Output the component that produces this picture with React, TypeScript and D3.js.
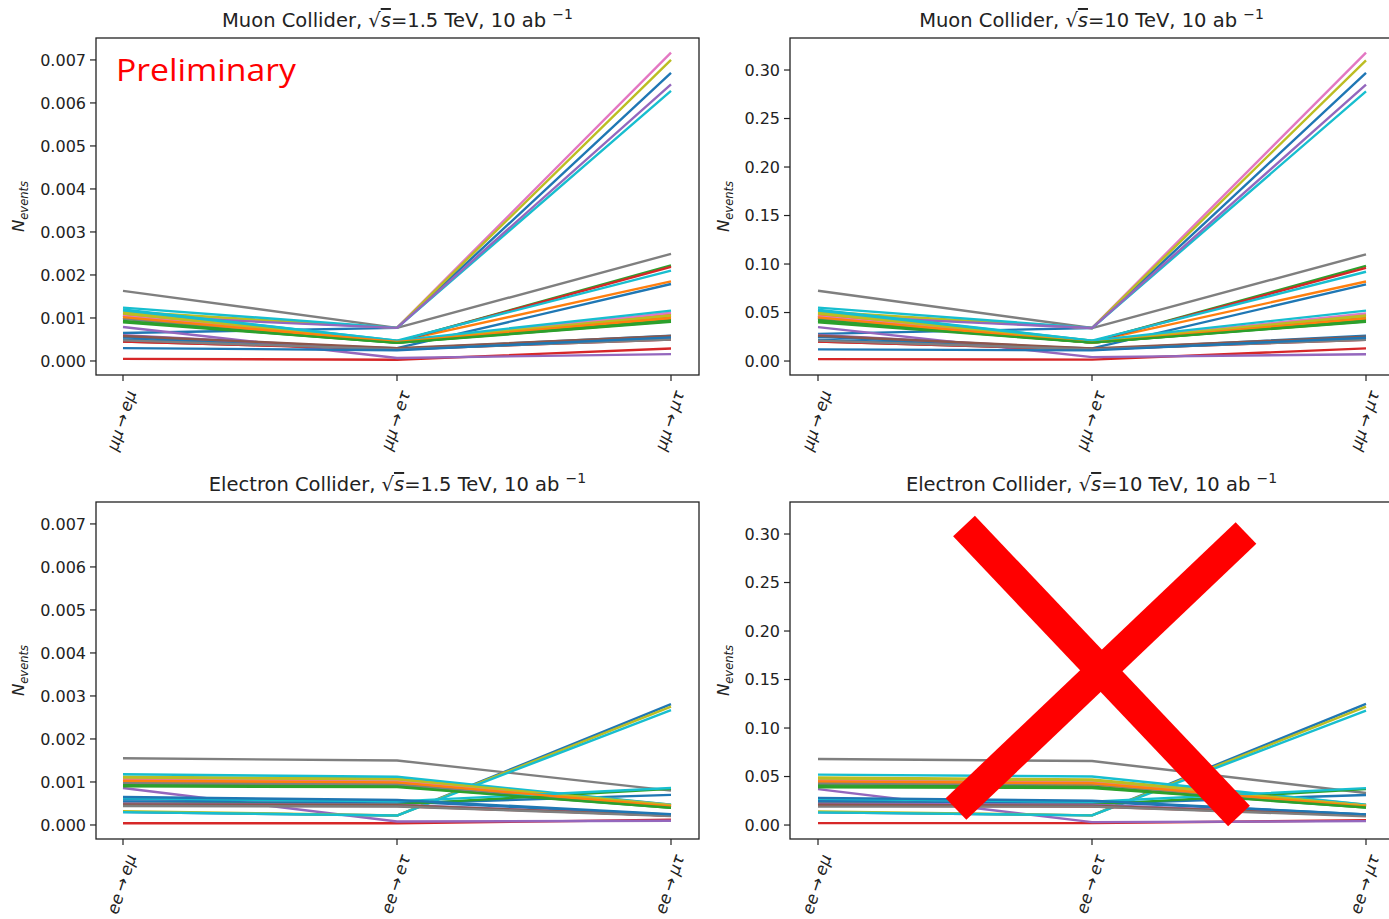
import React from 'react';
import * as d3 from 'd3';

// categories on the x axis
const muonCategories: string[] = ['μμ→eμ', 'μμ→eτ', 'μμ→μτ'];
const electronCategories: string[] = ['ee→eμ', 'ee→eτ', 'ee→μτ'];

// y tick values
const ticks15: number[] = [0, 0.001, 0.002, 0.003, 0.004, 0.005, 0.006, 0.007];
const ticks10: number[] = [0, 0.05, 0.1, 0.15, 0.2, 0.25, 0.3];

// N_events per channel, one row per benchmark point [eμ, eτ, μτ]
const muon15: number[][] = [
    [0.65e-3, 0.77e-3, 6.70e-3],
    [1.05e-3, 0.45e-3, 1.85e-3],
    [1.00e-3, 0.45e-3, 2.22e-3],
    [0.05e-3, 0.03e-3, 0.29e-3],
    [0.79e-3, 0.07e-3, 0.16e-3],
    [0.45e-3, 0.28e-3, 0.52e-3],
    [1.10e-3, 0.77e-3, 7.17e-3],
    [1.63e-3, 0.77e-3, 2.49e-3],
    [1.15e-3, 0.77e-3, 7.00e-3],
    [1.24e-3, 0.77e-3, 6.28e-3],
    [0.50e-3, 0.30e-3, 1.79e-3],
    [1.00e-3, 0.45e-3, 0.98e-3],
    [0.92e-3, 0.42e-3, 0.91e-3],
    [1.02e-3, 0.45e-3, 2.19e-3],
    [1.05e-3, 0.77e-3, 6.43e-3],
    [1.00e-3, 0.44e-3, 1.02e-3],
    [1.08e-3, 0.46e-3, 1.08e-3],
    [0.98e-3, 0.43e-3, 1.00e-3],
    [1.12e-3, 0.46e-3, 1.05e-3],
    [1.20e-3, 0.47e-3, 2.10e-3],
    [0.55e-3, 0.28e-3, 0.59e-3],
    [1.06e-3, 0.45e-3, 1.10e-3],
    [0.93e-3, 0.43e-3, 0.95e-3],
    [0.45e-3, 0.27e-3, 0.50e-3],
    [0.60e-3, 0.27e-3, 0.55e-3],
    [0.58e-3, 0.30e-3, 0.58e-3],
    [1.05e-3, 0.45e-3, 1.12e-3],
    [0.48e-3, 0.27e-3, 0.50e-3],
    [1.10e-3, 0.46e-3, 1.06e-3],
    [1.18e-3, 0.47e-3, 1.17e-3],
    [0.30e-3, 0.25e-3, 0.55e-3],
    [1.02e-3, 0.44e-3, 1.00e-3],
    [0.90e-3, 0.42e-3, 0.93e-3],
];

const muon10: number[][] = [
    [0.028, 0.034, 0.297],
    [0.047, 0.020, 0.082],
    [0.045, 0.020, 0.098],
    [0.002, 0.0015, 0.013],
    [0.035, 0.004, 0.007],
    [0.020, 0.012, 0.023],
    [0.049, 0.034, 0.318],
    [0.0725, 0.034, 0.110],
    [0.051, 0.034, 0.310],
    [0.055, 0.034, 0.278],
    [0.022, 0.013, 0.079],
    [0.045, 0.020, 0.043],
    [0.0415, 0.019, 0.0405],
    [0.046, 0.020, 0.096],
    [0.047, 0.034, 0.285],
    [0.044, 0.019, 0.045],
    [0.048, 0.020, 0.048],
    [0.044, 0.019, 0.044],
    [0.050, 0.021, 0.046],
    [0.053, 0.021, 0.092],
    [0.025, 0.012, 0.026],
    [0.047, 0.020, 0.048],
    [0.042, 0.019, 0.042],
    [0.020, 0.012, 0.022],
    [0.027, 0.012, 0.024],
    [0.026, 0.013, 0.025],
    [0.046, 0.020, 0.049],
    [0.021, 0.012, 0.022],
    [0.049, 0.020, 0.047],
    [0.052, 0.021, 0.052],
    [0.012, 0.011, 0.024],
    [0.045, 0.019, 0.044],
    [0.040, 0.019, 0.041],
];

const electron15: number[][] = [
    [0.30e-3, 0.22e-3, 2.81e-3],
    [1.02e-3, 0.98e-3, 0.44e-3],
    [0.95e-3, 0.92e-3, 0.42e-3],
    [0.04e-3, 0.04e-3, 0.12e-3],
    [0.86e-3, 0.08e-3, 0.10e-3],
    [0.45e-3, 0.45e-3, 0.22e-3],
    [1.05e-3, 1.02e-3, 0.45e-3],
    [1.55e-3, 1.50e-3, 0.80e-3],
    [0.32e-3, 0.22e-3, 2.75e-3],
    [0.30e-3, 0.22e-3, 2.67e-3],
    [0.55e-3, 0.50e-3, 0.70e-3],
    [1.00e-3, 0.97e-3, 0.43e-3],
    [0.92e-3, 0.90e-3, 0.40e-3],
    [1.05e-3, 1.03e-3, 0.45e-3],
    [1.08e-3, 1.05e-3, 0.45e-3],
    [1.00e-3, 0.98e-3, 0.42e-3],
    [1.08e-3, 1.05e-3, 0.46e-3],
    [0.98e-3, 0.95e-3, 0.42e-3],
    [1.12e-3, 1.08e-3, 0.47e-3],
    [1.18e-3, 1.12e-3, 0.47e-3],
    [0.60e-3, 0.55e-3, 0.24e-3],
    [1.04e-3, 1.00e-3, 0.44e-3],
    [0.50e-3, 0.48e-3, 0.84e-3],
    [0.45e-3, 0.44e-3, 0.22e-3],
    [0.50e-3, 0.47e-3, 0.22e-3],
    [0.48e-3, 0.46e-3, 0.22e-3],
    [1.06e-3, 1.03e-3, 0.46e-3],
    [0.44e-3, 0.43e-3, 0.21e-3],
    [1.10e-3, 1.06e-3, 0.46e-3],
    [0.62e-3, 0.55e-3, 0.86e-3],
    [0.65e-3, 0.58e-3, 0.25e-3],
    [1.03e-3, 0.99e-3, 0.43e-3],
    [0.90e-3, 0.88e-3, 0.40e-3],
];

const electron10: number[][] = [
    [0.013, 0.010, 0.125],
    [0.045, 0.043, 0.020],
    [0.042, 0.040, 0.019],
    [0.002, 0.002, 0.005],
    [0.037, 0.003, 0.004],
    [0.020, 0.020, 0.010],
    [0.046, 0.045, 0.020],
    [0.068, 0.066, 0.033],
    [0.014, 0.010, 0.122],
    [0.013, 0.010, 0.118],
    [0.024, 0.022, 0.031],
    [0.044, 0.042, 0.019],
    [0.040, 0.039, 0.018],
    [0.046, 0.045, 0.020],
    [0.047, 0.046, 0.020],
    [0.044, 0.043, 0.019],
    [0.047, 0.046, 0.020],
    [0.043, 0.042, 0.019],
    [0.049, 0.047, 0.021],
    [0.052, 0.050, 0.021],
    [0.026, 0.024, 0.011],
    [0.046, 0.044, 0.020],
    [0.022, 0.021, 0.037],
    [0.020, 0.019, 0.010],
    [0.022, 0.021, 0.010],
    [0.021, 0.020, 0.010],
    [0.047, 0.045, 0.020],
    [0.019, 0.019, 0.009],
    [0.048, 0.046, 0.020],
    [0.027, 0.024, 0.038],
    [0.028, 0.025, 0.011],
    [0.045, 0.043, 0.019],
    [0.039, 0.038, 0.018],
];

const FONT = "'DejaVu Sans', sans-serif";

interface PanelProps {
    collider: string;
    energy: string;
    categories: string[];
    rows: number[][];
    ticks: number[];
    fmt: string;
    yDomain: [number, number];
    left: number;
    right: number;
    top: number;
    bottom: number;
    firstX: number;
    lastX: number;
    labelX: number;
}

function ChartPanel(p: PanelProps) {
    const x = d3.scalePoint<string>().domain(p.categories).range([p.firstX, p.lastX]);
    const y = d3.scaleLinear().domain(p.yDomain).range([p.bottom, p.top]);
    const line = d3.line<number>()
        .x((_, i) => x(p.categories[i]) as number)
        .y(d => y(d));
    const format = d3.format(p.fmt);
    const color = d3.schemeCategory10;
    const cx = (p.left + p.right) / 2;
    const cy = (p.top + p.bottom) / 2;
    const clipId = `clip-${p.collider}-${p.energy.replace(/[^0-9]/g, '')}`;

    return (
        <g>
            <defs>
                <clipPath id={clipId}>
                    <rect x={p.left} y={p.top} width={p.right - p.left} height={p.bottom - p.top} />
                </clipPath>
            </defs>
            <g clipPath={`url(#${clipId})`}>
                {p.rows.map((row, i) => (
                    <path key={i} d={line(row) || ''} fill="none" stroke={color[i % 10]}
                        strokeWidth={2.4} strokeLinejoin="round" />
                ))}
            </g>
            <rect x={p.left} y={p.top} width={p.right - p.left} height={p.bottom - p.top}
                fill="none" stroke="#222" strokeWidth={1.3} />
            {p.ticks.map(t => (
                <g key={t}>
                    <line x1={p.left - 6} x2={p.left} y1={y(t)} y2={y(t)} stroke="#222" strokeWidth={1.2} />
                    <text x={p.left - 10} y={y(t)} dy="0.36em" textAnchor="end" fontSize={16}
                        fontFamily={FONT} fill="#222">{format(t)}</text>
                </g>
            ))}
            {p.categories.map(c => {
                const xc = x(c) as number;
                const [a, b] = c.split('→');
                return (
                    <g key={c}>
                        <line x1={xc} x2={xc} y1={p.bottom} y2={p.bottom + 6} stroke="#222" strokeWidth={1.2} />
                        <text transform={`translate(${xc + 8},${p.bottom + 16}) rotate(-72)`} textAnchor="end"
                            dy="0.35em" fontSize={16.5} fontFamily={FONT} fill="#222">
                            <tspan fontStyle="italic">{a}</tspan>
                            <tspan>{'\u2009→\u2009'}</tspan>
                            <tspan fontStyle="italic">{b}</tspan>
                        </text>
                    </g>
                );
            })}
            <text transform={`translate(${p.labelX},${cy}) rotate(-90)`} textAnchor="middle"
                fontFamily={FONT} fill="#222">
                <tspan fontStyle="italic" fontSize={16.5}>N</tspan>
                <tspan fontStyle="italic" fontSize={11.5} dy={4}>events</tspan>
            </text>
            <text x={cx} y={p.top - 11} textAnchor="middle" fontSize={19.5} fontFamily={FONT} fill="#222">
                <tspan>{`${p.collider} Collider, √`}</tspan>
                <tspan fontStyle="italic" textDecoration="overline">s</tspan>
                <tspan>{`=${p.energy}, 10 ab `}</tspan>
                <tspan fontSize={14} dy={-8}>−1</tspan>
            </text>
        </g>
    );
}

export default function App() {
    const domain15: [number, number] = [-0.000326, 0.00751];
    const domain10: [number, number] = [-0.0144, 0.333];
    return (
        <svg width={1389} height={919} style={{ position: 'absolute', left: 0, top: 0, background: '#fff' }}>
            <rect width={1389} height={919} fill="#fff" />
            <ChartPanel collider="Muon" energy="1.5 TeV" categories={muonCategories} rows={muon15}
                ticks={ticks15} fmt=".3f" yDomain={domain15}
                left={96} right={699} top={38} bottom={375} firstX={123} lastX={671} labelX={24} />
            <ChartPanel collider="Muon" energy="10 TeV" categories={muonCategories} rows={muon10}
                ticks={ticks10} fmt=".2f" yDomain={domain10}
                left={790} right={1393} top={38} bottom={375} firstX={818} lastX={1366} labelX={729} />
            <ChartPanel collider="Electron" energy="1.5 TeV" categories={electronCategories} rows={electron15}
                ticks={ticks15} fmt=".3f" yDomain={domain15}
                left={96} right={699} top={502} bottom={839} firstX={123} lastX={671} labelX={24} />
            <ChartPanel collider="Electron" energy="10 TeV" categories={electronCategories} rows={electron10}
                ticks={ticks10} fmt=".2f" yDomain={domain10}
                left={790} right={1393} top={502} bottom={839} firstX={818} lastX={1366} labelX={729} />

            <text x={116} y={81} fontSize={31} fontFamily="'Open Sans', 'Noto Sans', sans-serif" fill="#ff0000"
                textLength={180} lengthAdjust="spacingAndGlyphs">Preliminary</text>

            <line x1={964} y1={526} x2={1239} y2={816} stroke="#ff0000" strokeWidth={30} />
            <line x1={1246} y1={533} x2={956} y2={809} stroke="#ff0000" strokeWidth={30} />
        </svg>
    );
}
